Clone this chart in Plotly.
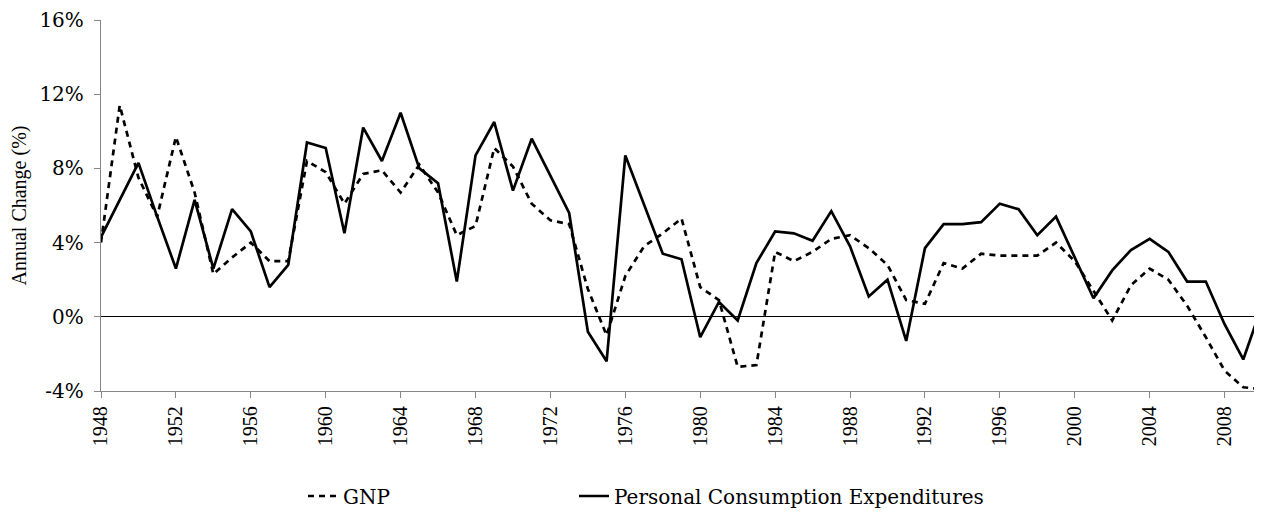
import plotly.graph_objects as go

years = list(range(1948, 2011))

gnp = [4.0, 11.4, 7.5, 5.4, 9.7, 6.7, 2.3, 3.2, 4.0, 3.0,
       3.0, 8.4, 7.8, 6.1, 7.7, 7.9, 6.7, 8.2, 6.7, 4.4,
       4.9, 9.1, 8.1, 6.1, 5.2, 5.0, 1.5, -1.0, 2.2, 3.8,
       4.5, 5.3, 1.6, 0.9, -2.7, -2.6, 3.5, 3.0, 3.5, 4.2,
       4.4, 3.7, 2.8, 0.9, 0.7, 2.9, 2.6, 3.4, 3.3, 3.3,
       3.3, 4.0, 3.0, 1.4, -0.2, 1.7, 2.6, 2.0, 0.6, -1.1,
       -2.9, -3.8, -3.9]

pce = [4.3, 6.3, 8.3, 5.4, 2.6, 6.3, 2.6, 5.8, 4.6, 1.6,
       2.8, 9.4, 9.1, 4.5, 10.2, 8.4, 11.0, 8.0, 7.2, 1.9,
       8.7, 10.5, 6.8, 9.6, 7.6, 5.6, -0.8, -2.4, 8.7, 6.1,
       3.4, 3.1, -1.1, 0.8, -0.2, 2.9, 4.6, 4.5, 4.1, 5.7,
       3.8, 1.1, 2.0, -1.3, 3.7, 5.0, 5.0, 5.1, 6.1, 5.8,
       4.4, 5.4, 3.2, 1.0, 2.5, 3.6, 4.2, 3.5, 1.9, 1.9,
       -0.4, -2.3, 0.6]

x_ticks = list(range(1948, 2011, 4))
y_ticks = [-4, 0, 4, 8, 12, 16]
y_tick_labels = [f"{v}%" for v in y_ticks]

SERIF = "Liberation Serif, Times New Roman, serif"
WIDE = "DejaVu Serif, Liberation Serif, serif"

fig = go.Figure()
fig.add_trace(go.Scatter(
    x=years, y=gnp, mode="lines", name="GNP", legend="legend",
    line=dict(color="black", width=2.7, dash="6px,5px"),
))
fig.add_trace(go.Scatter(
    x=years, y=pce, mode="lines", name="Personal Consumption Expenditures",
    legend="legend2",
    line=dict(color="black", width=2.7),
))

legend_common = dict(
    orientation="h", xanchor="left", y=-0.283, yanchor="middle",
    font=dict(family=WIDE, size=20, color="black"),
    bgcolor="rgba(0,0,0,0)", itemclick=False, itemdoubleclick=False,
)

fig.update_layout(
    width=1254, height=513,
    margin=dict(l=93, r=0, t=8, b=130),
    paper_bgcolor="white", plot_bgcolor="white",
    font=dict(family=SERIF, size=20, color="black"),
    showlegend=True,
    legend=dict(x=0.174, **legend_common),
    legend2=dict(x=0.4074, **legend_common),
    xaxis=dict(
        range=[1948, 2010], tickmode="array", tickvals=x_ticks,
        ticktext=[str(v) for v in x_ticks], tickangle=-90,
        showgrid=False, zeroline=False, showline=True, linecolor="#868686",
        linewidth=1.3, ticks="outside", ticklen=6, tickcolor="#868686",
        tickfont=dict(family=SERIF, size=20, color="black"),
    ),
    yaxis=dict(
        range=[-4, 16], tickmode="array", tickvals=y_ticks, ticktext=y_tick_labels,
        showgrid=False, zeroline=True, zerolinecolor="black", zerolinewidth=1.4,
        showline=True, linecolor="#868686", linewidth=1.3,
        ticks="outside", ticklen=6, tickcolor="#868686",
        ticklabelstandoff=6, ticklabeloverflow="allow",
        tickfont=dict(family=WIDE, size=20, color="black"),
        title=dict(text="Annual Change (%)", font=dict(family=SERIF, size=20, color="black"), standoff=14),
    ),
)

fig.write_html("out.html")
